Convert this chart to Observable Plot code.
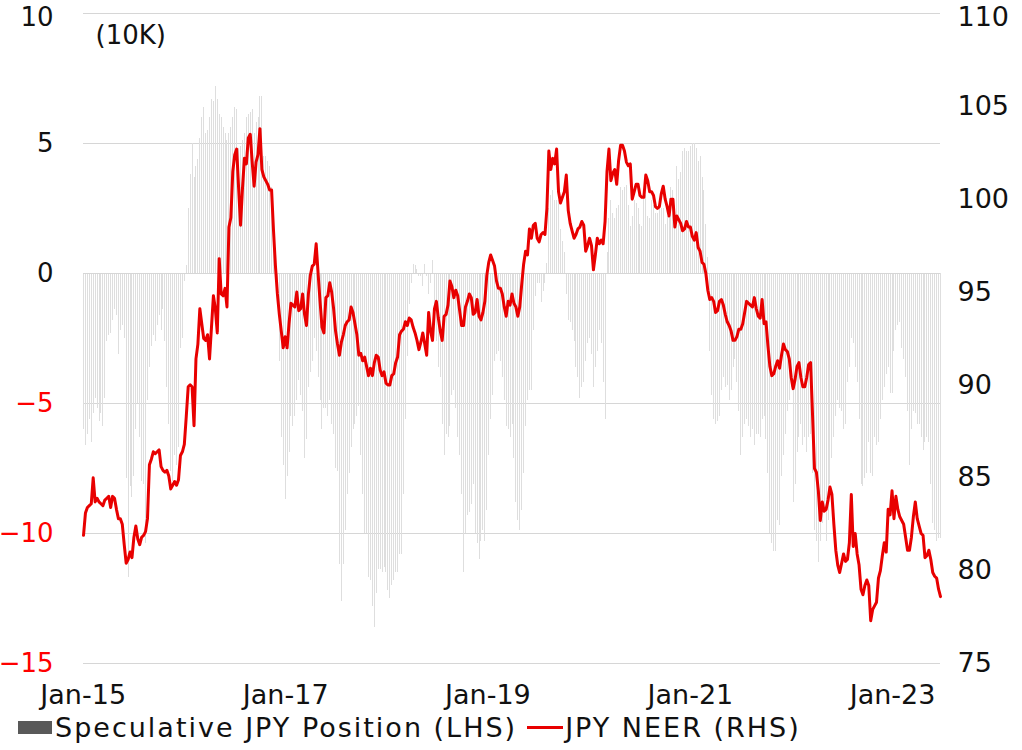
<!DOCTYPE html>
<html>
<head>
<meta charset="utf-8">
<script src="https://cdn.jsdelivr.net/npm/d3@7"></script>
<script src="https://cdn.jsdelivr.net/npm/@observablehq/plot@0.6"></script>
<style>
  html, body { margin: 0; padding: 0; background: #fff; }
  #wrap { position: relative; width: 1022px; height: 750px; overflow: hidden; font-family: "DejaVu Sans", sans-serif; }
  #chart svg { overflow: visible; }
  #legend { position: absolute; left: 18px; top: 713px; height: 28px; display: flex; align-items: center; font-size: 27px; color: #111; white-space: nowrap; }
  #legend .sw-bar { width: 34px; height: 13px; background: #595959; margin-right: 3px; }
  #legend .sw-line { width: 36px; height: 3px; background: #e80000; margin-left: 10px; margin-right: 2px; }
  #legend .t1 { letter-spacing: 2px; }
  #legend .t2 { letter-spacing: 2px; }
</style>
</head>
<body>
<div id="wrap">
  <div id="chart"></div>
  <div id="legend"><span class="sw-bar"></span><span class="t1">Speculative JPY Position (LHS)</span><span class="sw-line"></span><span class="t2">JPY NEER (RHS)</span></div>
</div>
<script>
// Weekly observations, first week ending 2015-01-02
const startDate = "2015-01-02";

// Speculative JPY net position (10K contracts), LHS
const positions = [
-6.0,-6.6,-6.2,-5.6,-6.5,-5.4,-4.8,-5.2,-5.7,-5.4,
-5.9,-4.8,-2.6,-2.4,-2.3,-1.8,-1.4,-1.6,-3.1,-2.2,
-2.0,-2.5,-7.9,-11.7,-8.2,-8.6,-7.8,-6.0,-5.0,-6.3,
-8.0,-8.1,-10.4,-4.9,-3.6,-2.8,-2.4,-2.6,-2.0,-1.6,
-2.2,-1.4,-2.6,-4.4,-5.8,-7.6,-8.0,-7.0,-7.4,-6.7,
-2.9,-2.5,-0.3,0.3,2.5,3.8,5.0,3.7,4.1,4.4,
5.2,6.0,6.4,5.4,5.5,6.0,6.7,6.6,7.2,6.7,
6.1,6.0,5.6,5.4,5.1,5.4,5.6,6.0,6.4,6.3,
4.8,4.9,5.1,5.4,6.0,6.1,6.2,6.3,5.4,5.8,
6.0,6.8,6.8,4.5,4.5,4.3,4.1,3.3,2.2,0.6,
-0.3,-3.4,-6.3,-7.4,-8.7,-7.8,-6.9,-5.5,-5.9,-5.5,
-4.9,-4.1,-4.7,-5.3,-7.1,-6.4,-4.4,-3.8,-3.4,-2.5,
-3.0,-4.0,-4.9,-6.0,-5.2,-5.2,-5.5,-4.9,-5.8,-6.2,
-7.5,-7.6,-11.2,-12.6,-11.2,-9.9,-8.5,-7.7,-6.7,-6.0,
-5.8,-5.5,-5.1,-7.0,-8.5,-10.0,-10.0,-11.7,-11.8,-12.8,
-13.6,-12.3,-11.4,-11.4,-11.5,-11.3,-11.5,-12.2,-12.5,-12.0,
-11.8,-11.5,-11.5,-10.8,-10.8,-8.5,-5.6,-3.2,-1.2,-0.4,
0.35,0.3,0.15,-0.1,-0.1,-0.5,0.35,-0.1,-0.8,-0.4,
0.5,-1.4,-2.6,-3.6,-4.0,-5.8,-7.0,-6.2,-6.3,-5.9,
-4.7,-4.5,-5.2,-6.3,-7.0,-8.5,-11.5,-10.0,-9.3,-9.2,
-8.9,-8.1,-10.0,-10.4,-11.0,-10.3,-9.9,-10.3,-9.1,-7.0,
-5.6,-4.7,-3.4,-3.1,-3.0,-3.4,-4.0,-4.9,-5.9,-6.0,
-6.3,-5.8,-7.1,-8.8,-9.5,-9.9,-9.1,-7.7,-5.9,-4.9,
-4.5,-4.5,-2.2,-0.9,-0.4,-0.4,-1.1,-0.7,-0.4,0.4,
2.5,3.0,3.2,2.8,2.8,2.8,1.7,1.25,0.8,-0.8,
-1.8,-1.9,-2.2,-2.6,-3.6,-4.0,-4.8,-4.4,-4.2,-3.4,
-2.7,-2.5,-3.1,-4.4,-3.6,-3.0,-2.2,-2.7,-4.2,-5.6,
0.8,2.1,2.8,2.3,2.1,2.5,2.6,3.3,3.2,3.3,
3.4,2.6,1.8,2.2,2.8,2.7,2.5,1.9,1.8,2.9,
3.0,2.2,2.1,2.8,2.6,2.3,2.3,2.5,2.5,2.5,
1.9,2.2,2.9,3.3,3.2,2.6,4.1,3.6,3.9,4.7,
4.8,4.7,4.7,4.9,5.0,5.0,4.8,4.3,4.5,3.7,
3.2,1.9,0.6,-3.0,-4.7,-5.6,-5.8,-5.7,-5.5,-4.5,
-4.0,-4.4,-4.3,-4.9,-4.5,-3.6,-3.3,-4.2,-5.3,-7.0,
-6.3,-5.8,-5.6,-5.9,-6.3,-6.0,-6.6,-6.2,-6.2,-6.3,
-5.6,-5.5,-6.4,-7.7,-10.0,-10.4,-10.7,-10.7,-9.5,-9.7,
-7.8,-7.0,-6.2,-5.3,-4.9,-4.4,-8.8,-8.1,-6.9,-6.3,
-5.8,-6.6,-6.3,-6.9,-6.3,-6.2,-7.7,-9.9,-10.3,-11.1,
-10.3,-9.6,-9.1,-10.3,-9.5,-8.1,-7.1,-6.3,-5.5,-4.9,
-5.2,-5.3,-6.0,-5.8,-4.2,-3.6,-2.5,-2.7,-3.6,-4.2,
-5.6,-8.1,-8.2,-7.9,-7.7,-6.5,-7.7,-7.8,-6.3,-6.6,
-6.5,-5.6,-4.9,-4.4,-3.9,-3.6,-4.6,-4.6,-3.0,-2.2,
-2.0,-1.9,-2.9,-3.3,-4.0,-5.3,-7.4,-6.0,-5.3,-5.4,
-5.8,-5.8,-6.3,-6.8,-6.5,-6.3,-6.5,-8.1,-9.6,-9.9,
-10.3,-10.2,-10.2
];

// JPY nominal effective exchange rate, RHS
const neer = [
81.9,83.1,83.4,83.5,83.6,85.0,83.7,83.9,83.7,83.6,
83.5,83.8,83.9,84.0,83.4,84.0,83.9,83.3,82.8,82.8,
82.5,81.4,80.4,80.6,81.0,80.7,81.8,82.4,81.7,81.4,
81.8,81.9,82.1,82.8,85.7,86.0,86.4,86.3,86.4,86.5,
85.6,85.4,85.3,85.4,85.1,84.4,84.6,84.8,84.6,84.9,
86.2,86.4,86.8,88.3,89.9,90.0,89.9,87.8,91.4,92.2,
94.1,93.3,92.5,92.4,92.7,91.4,93.1,94.8,94.1,92.8,
96.8,94.9,94.8,95.2,94.2,98.5,99.0,101.5,102.4,102.7,
100.6,98.6,100.6,102.2,101.9,103.3,103.5,102.0,100.7,102.0,
102.4,103.8,101.6,101.2,101.0,100.8,100.5,100.5,98.3,96.4,
94.9,93.8,92.9,92.0,92.6,92.0,93.3,94.4,94.3,94.2,
95.0,94.0,94.1,94.9,93.8,93.2,94.9,95.9,96.4,96.5,
97.6,96.0,94.5,93.1,92.8,94.7,94.8,95.5,95.0,94.1,
92.9,92.2,91.6,92.3,92.7,93.2,93.4,93.5,94.2,93.9,
93.3,92.7,91.6,91.7,91.3,91.5,91.0,90.5,90.9,90.5,
91.2,91.6,91.5,90.8,90.5,90.7,90.1,90.0,90.0,90.5,
90.6,91.2,91.5,92.7,92.9,93.0,93.4,93.2,93.6,93.5,
93.1,92.8,92.4,91.9,92.3,92.8,92.2,91.6,93.9,92.9,
92.4,94.1,94.5,93.6,92.9,92.4,93.7,93.8,94.3,95.6,
95.3,94.7,95.1,94.8,94.0,93.2,93.2,94.2,94.5,94.9,
94.7,93.8,93.9,94.6,93.7,93.5,93.9,94.5,95.9,96.6,
97.0,96.7,96.4,95.6,95.2,95.2,94.9,94.2,93.7,94.5,
94.3,94.9,94.4,94.2,93.7,94.2,95.4,96.5,97.2,97.0,
98.4,97.9,98.6,98.7,97.9,97.7,98.1,98.2,98.1,99.5,
102.6,101.6,102.2,101.9,102.7,100.4,99.8,100.1,100.4,101.3,
99.4,98.7,98.3,97.9,98.1,98.4,98.5,98.8,98.6,97.2,
97.5,97.9,97.5,96.2,97.0,97.9,97.6,97.8,97.6,98.8,
101.5,102.7,101.0,101.4,101.6,100.8,102.1,102.9,102.9,102.6,
102.0,101.8,101.9,100.0,100.4,100.8,100.8,100.2,100.1,100.1,
101.3,101.0,100.4,100.4,100.2,99.6,99.5,99.6,100.3,100.7,
100.0,99.6,99.1,100.0,100.0,98.5,99.1,98.9,98.7,98.3,
98.4,98.8,98.5,98.5,98.0,97.8,98.2,97.4,97.2,96.6,
96.5,96.0,95.1,94.6,94.7,94.5,93.9,94.0,94.5,94.6,
94.3,93.8,93.4,93.2,92.9,92.4,92.4,92.6,93.0,93.0,
93.3,93.9,94.5,94.4,94.3,94.2,94.7,94.1,93.7,93.6,
94.6,93.3,93.4,92.1,91.0,90.5,90.6,91.0,91.3,90.9,
91.6,92.2,91.9,91.8,91.4,90.4,89.8,90.3,91.0,91.2,
90.4,89.9,89.9,90.4,91.1,91.2,88.4,85.5,85.3,84.3,
82.7,83.7,83.2,83.3,83.8,84.5,84.1,82.5,81.1,80.3,
79.9,80.4,80.9,80.5,80.6,81.5,84.1,81.3,82.0,80.9,
80.3,79.0,78.7,79.2,79.5,79.2,77.3,77.9,78.1,78.3,
79.6,80.0,80.8,81.5,81.0,83.3,83.0,84.3,82.8,84.0,
83.3,82.9,82.7,82.5,81.8,81.1,81.1,81.8,82.9,83.7,
82.8,82.4,82.0,81.9,80.7,80.8,81.1,80.6,79.9,79.7,
79.6,79.0,78.6
];

const leftTicks = [-15, -10, -5, 0, 5, 10];
const rightTicks = [75, 80, 85, 90, 95, 100, 105, 110];
const xTickDates = ["2015-01-01", "2017-01-01", "2019-01-01", "2021-01-01", "2023-01-01"];
const unitLabel = "(10K)";

// map RHS scale onto LHS scale (dual axis)
const leftMin = -15, leftMax = 10, rightMin = 75, rightMax = 110;
const toLeft = r => leftMin + (r - rightMin) * (leftMax - leftMin) / (rightMax - rightMin);

const start = new Date(startDate + "T00:00:00Z");
const data = positions.map((p, i) => ({
  date: d3.utcDay.offset(start, 7 * i),
  pos: p,
  neer: neer[i]
}));

const fmt = d3.utcFormat("%b-%y");
const RED = "#e80000";
const topL = leftTicks.filter(d => d === leftMax);
const topR = rightTicks.filter(d => d === rightMax);

const chart = Plot.plot({
  width: 1022,
  height: 712,
  marginTop: 13,
  marginBottom: 49,
  marginLeft: 83,
  marginRight: 82,
  style: { fontFamily: "DejaVu Sans, sans-serif", fontSize: "27px", color: "#111", background: "#fff", overflow: "visible" },
  x: { type: "utc", domain: [data[0].date, data[data.length - 1].date] },
  y: { domain: [leftMin, leftMax] },
  marks: [
    Plot.ruleY(leftTicks, { stroke: "#d6d6d6", strokeWidth: 1 }),
    Plot.ruleX(data, { x: "date", y1: 0, y2: "pos", stroke: "#dedede", strokeWidth: 1, shapeRendering: "crispEdges" }),
    Plot.ruleY([0], { stroke: "#d6d6d6", strokeWidth: 1 }),
    Plot.line(data, { x: "date", y: d => toLeft(d.neer), stroke: RED, strokeWidth: 3, strokeLinejoin: "round" }),
    Plot.axisY(leftTicks.filter(d => d >= 0 && d !== leftMax), { anchor: "left", tickSize: 0, tickPadding: 30, fontSize: 26, fill: "#111", label: null }),
    Plot.axisY(topL, { anchor: "left", tickSize: 0, tickPadding: 30, fontSize: 26, fill: "#111", label: null, dy: 4 }),
    Plot.axisY(leftTicks.filter(d => d < 0), { anchor: "left", tickSize: 0, tickPadding: 30, fontSize: 26, fill: "#ff0000", label: null }),
    Plot.axisY(rightTicks.filter(d => d !== rightMax).map(toLeft), { anchor: "right", tickSize: 0, tickPadding: 17, fontSize: 27, fill: "#111", label: null,
      tickFormat: v => String(Math.round(rightMin + (v - leftMin) * (rightMax - rightMin) / (leftMax - leftMin))) }),
    Plot.axisY(topR.map(toLeft), { anchor: "right", tickSize: 0, tickPadding: 17, fontSize: 27, fill: "#111", label: null, dy: 4,
      tickFormat: () => String(rightMax) }),
    Plot.axisX(xTickDates.map(s => new Date(s + "T00:00:00Z")), { anchor: "bottom", tickSize: 0, tickPadding: 21, fontSize: 27, fill: "#111", label: null,
      tickFormat: fmt, letterSpacing: 3 }),
    Plot.text([unitLabel], { frameAnchor: "top-left", dx: 12, dy: 22, textAnchor: "start", lineAnchor: "middle", fontSize: 26, fill: "#111", letterSpacing: 3 })
  ]
});
document.getElementById("chart").appendChild(chart);
</script>
</body>
</html>
